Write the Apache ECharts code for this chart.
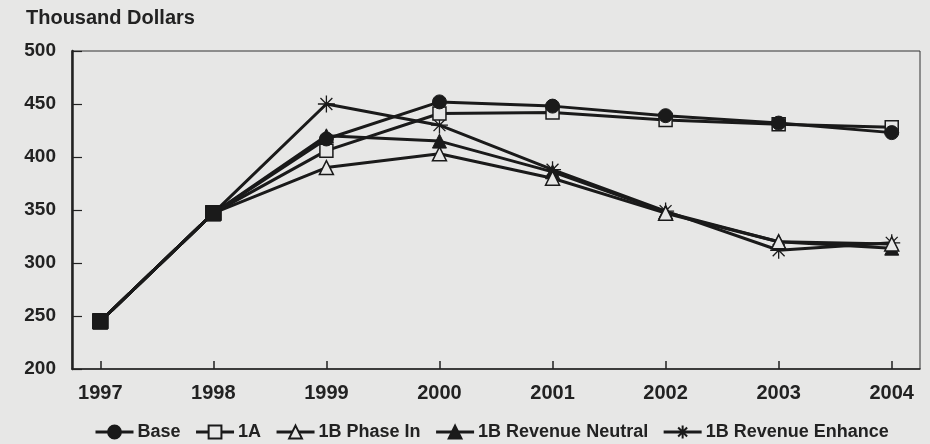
<!DOCTYPE html>
<html>
<head>
<meta charset="utf-8">
<script src="https://cdn.jsdelivr.net/npm/echarts@6/dist/echarts.min.js"></script>
<style>
html,body{margin:0;padding:0;background:#e7e7e6;}
#c{width:930px;height:444px;}
</style>
</head>
<body>
<div id="c"></div>
<script>
const years = [1997, 1998, 1999, 2000, 2001, 2002, 2003, 2004];
const yTicks = [200, 250, 300, 350, 400, 450, 500];
const seriesNames = ['Base', '1A', '1B Phase In', '1B Revenue Neutral', '1B Revenue Enhance'];
const base = [245, 347, 417, 452, 448, 439, 432, 423];
const a1 = [245, 347, 406, 441, 442, 435, 431, 428];
const phaseIn = [245, 347, 390, 403, 380, 347, 320, 318];
const revNeutral = [245, 347, 420, 415, 386, 348, 320, 314];
const revEnhance = [245, 347, 450, 430, 388, 349, 312, 319];

const FONT = 'Liberation Sans, Arial, sans-serif';
const INK = '#1a1a1a';
const BG = '#e7e7e6';
const star = 'path://M0,-10L0,10M-10,0L10,0M-7,-7L7,7M-7,7L7,-7';

const styles = [
  {symbol: 'circle', size: 14, item: {color: INK, borderColor: INK, borderWidth: 1}},
  {symbol: 'rect', size: 13, item: {color: BG, borderColor: INK, borderWidth: 1.5}},
  {symbol: 'triangle', size: 14, item: {color: BG, borderColor: INK, borderWidth: 1.5}},
  {symbol: 'triangle', size: 14, item: {color: INK, borderColor: INK, borderWidth: 1}},
  {symbol: star, size: 17, item: {color: 'none', borderColor: INK, borderWidth: 1.3}}
];
const values = [base, a1, phaseIn, revNeutral, revEnhance];

const series = values.map((vals, si) => ({
  name: seriesNames[si],
  type: 'line',
  symbol: styles[si].symbol,
  symbolSize: styles[si].size,
  lineStyle: {color: INK, width: 3},
  itemStyle: styles[si].item,
  z: 10 - si,
  data: vals.map((v, i) => {
    if (i < 2) {
      return {value: [years[i], v], symbol: 'rect', symbolSize: 15,
        itemStyle: {color: INK, borderColor: INK, borderWidth: 1}};
    }
    return {value: [years[i], v]};
  })
}));

const chart = echarts.init(document.getElementById('c'));
chart.setOption({
  backgroundColor: BG,
  animation: false,
  textStyle: {fontFamily: FONT},
  title: {
    text: 'Thousand Dollars', left: 21, top: 3,
    textStyle: {fontFamily: FONT, fontSize: 20, fontWeight: 'bold', color: '#222'}
  },
  grid: {left: 72, top: 51, right: 10, bottom: 75, show: true, borderColor: '#333', borderWidth: 1, backgroundColor: 'transparent'},
  legend: {
    left: 89, top: 418, itemGap: 14, itemWidth: 38, itemHeight: 16,
    data: seriesNames,
    lineStyle: {width: 3, color: INK},
    textStyle: {fontFamily: FONT, fontSize: 18, fontWeight: 'bold', color: '#222', padding: [0, 0, 0, -1]}
  },
  xAxis: {
    type: 'value', min: 1996.75, max: 2004.25,
    splitLine: {show: false},
    axisLine: {show: true, lineStyle: {color: '#222', width: 1.5}},
    axisTick: {show: true, inside: true, length: 8, customValues: years, lineStyle: {color: '#222', width: 1.5}},
    axisLabel: {customValues: years, formatter: v => String(v), margin: 14, fontFamily: FONT, fontSize: 20, fontWeight: 'bold', color: '#222'}
  },
  yAxis: {
    type: 'value', min: 200, max: 500, interval: 50,
    splitLine: {show: false},
    axisLine: {show: true, lineStyle: {color: '#222', width: 2.5}},
    axisTick: {show: true, inside: true, length: 10, customValues: yTicks, lineStyle: {color: '#222', width: 1.2}},
    axisLabel: {customValues: yTicks, margin: 16, fontFamily: FONT, fontSize: 19, fontWeight: 'bold', color: '#222'}
  },
  series: series
});
</script>
</body>
</html>
